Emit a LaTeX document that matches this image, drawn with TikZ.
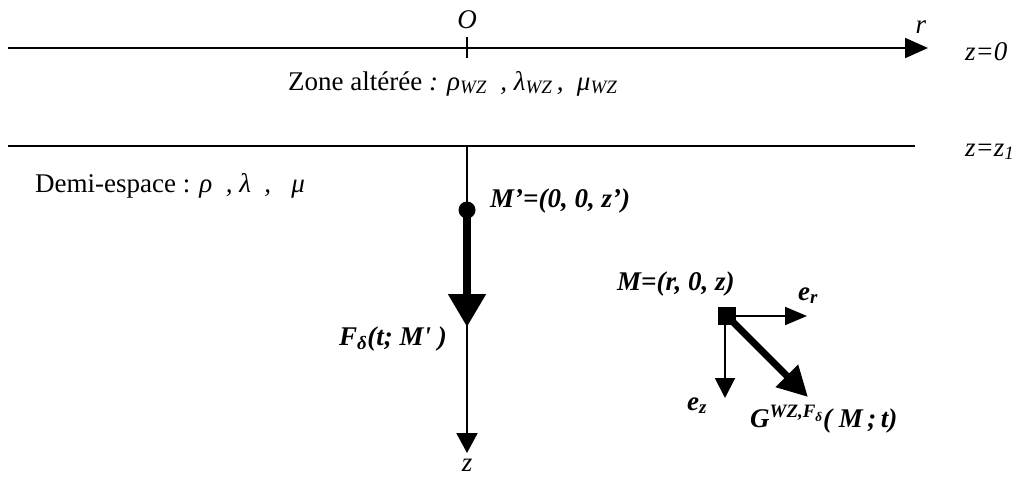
\documentclass[tikz,border=0pt]{standalone}
\usepackage{fontspec}
\setmainfont{Liberation Serif}
\usetikzlibrary{arrows.meta}
\begin{document}
\begin{tikzpicture}[x=1pt,y=-1pt,
  lbl/.style={inner sep=0pt, font=\fontsize{27}{32}\selectfont},
  thinln/.style={line width=2pt},
]
\useasboundingbox (0,0) rectangle (1018,477);
% axes
\coordinate (axL) at (8,48);
\coordinate (axR) at (928,48);
\draw[thinln,-{Triangle[length=23pt,width=20pt]}] (axL) -- (axR);
\coordinate (tickT) at (467,37);
\coordinate (tickB) at (467,58);
\draw[thinln] (tickT) -- (tickB);
\node[lbl,anchor=base] (O) at (467,28) {\textit{O}};
\node[lbl,anchor=base] (r) at (921,33) {\textit{r}};
\node[lbl,anchor=base west] (z0) at (965,60) {\textit{z=0}};
\coordinate (l1L) at (8,146);
\coordinate (l1R) at (915,146);
\draw[thinln] (l1L) -- (l1R);
\node[lbl,anchor=base west] (zz1) at (965,156) {\textit{z=z\textsubscript{1}}};
\node[lbl,anchor=base west] (zone) at (288,90) {Zone altérée \textit{: ρ\textsubscript{WZ}\ \ , λ\textsubscript{WZ}\,,\ \ μ\textsubscript{WZ}}};
\node[lbl,anchor=base west] (demi) at (35,192) {Demi-espace : \textit{ρ\ \ , λ\ \ ,\ \ \ μ}};
% vertical z axis
\coordinate (vTop) at (467,146);
\coordinate (vBot) at (467,453);
\draw[thinln,-{Triangle[length=20pt,width=21pt]}] (vTop) -- (vBot);
\node[lbl,anchor=base] (zlab) at (467,471) {\textit{z}};
% source point
\node[circle,fill=black,inner sep=0pt,minimum size=17pt] (Mp) at (467,210) {};
\coordinate (Ftip) at (467,327);
\draw[line width=8pt,-{Triangle[length=33pt,width=36pt]}] (Mp.center) -- (Ftip);
\node[lbl,anchor=base west] (Mplab) at (490,207) {\textbf{\textit{M’=(0, 0, z’)}}};
\node[lbl,anchor=base east] (Flab) at (447,345) {\textbf{\textit{F\textsubscript{δ}(t; M\textquotesingle\ )}}};
% observation point
\node[rectangle,fill=black,inner sep=0pt,minimum size=18pt] (M) at (727,316) {};
\coordinate (erTip) at (807,316);
\coordinate (ezTip) at (725,398);
\coordinate (GTip) at (808,397);
\draw[thinln,-{Triangle[length=22pt,width=18pt]}] (M.east) -- (erTip);
\draw[thinln,-{Triangle[length=20pt,width=20pt]}] (M.south west -| ezTip) -- (ezTip);
\draw[line width=7pt,-{Triangle[length=30pt,width=30pt]}] (M.center) -- (GTip);
\node[lbl,anchor=base west] (Mlab) at (617,290) {\textbf{\textit{M=(r, 0, z)}}};
\node[lbl,anchor=base west] (erlab) at (798,300) {\textbf{\textit{e\textsubscript{r}}}};
\node[lbl,anchor=base west] (ezlab) at (687,410) {\textbf{\textit{e\textsubscript{z}}}};
\node[lbl,anchor=base west] (Glab) at (750,427) {\textbf{\textit{G\textsuperscript{WZ,F\textsubscript{δ}}( M\,;\,t)}}};
\end{tikzpicture}
\end{document}
